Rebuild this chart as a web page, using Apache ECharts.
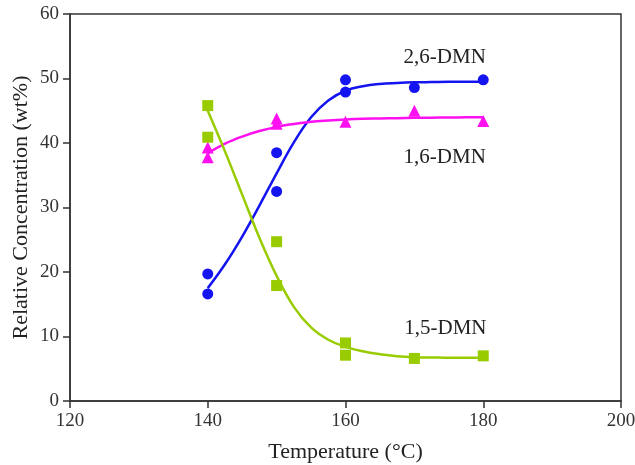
<!DOCTYPE html>
<html>
<head>
<meta charset="utf-8">
<script src="https://cdn.jsdelivr.net/npm/echarts@6/dist/echarts.min.js"></script>
<style>html,body{margin:0;padding:0;background:#fff}#c{width:635px;height:465px}</style>
</head>
<body>
<div id="c"></div>
<script>
// Measured points
var dmn26Points = [[140,19.7],[140,16.6],[150,38.5],[150,32.5],[160,49.8],[160,47.9],[170,48.6],[180,49.8]];
var dmn16Points = [[140,39.3],[140,37.8],[150,43.8],[150,43.0],[160,43.3],[170,45.0],[180,43.4]];
var dmn15Points = [[140,45.8],[140,40.9],[150,24.7],[150,17.9],[160,9.0],[160,7.1],[170,6.6],[180,7.0]];

// Fitted curves
var dmn26Curve = [[140,17.5],[142.5,21.2],[145,25.5],[147.5,30.3],[150,35.3],[152.5,40.1],[155,44.0],[157.5,46.6],[160,48.1],[162.5,48.8],[165,49.15],[167.5,49.3],[170,49.4],[172.5,49.45],[175,49.5],[177.5,49.5],[180,49.5]];
var dmn16Curve = [[140,38.4],[142.5,39.9],[145,41.0],[147.5,41.85],[150,42.5],[152.5,42.95],[155,43.3],[157.5,43.5],[160,43.65],[162.5,43.75],[165,43.8],[167.5,43.85],[170,43.9],[172.5,43.93],[175,43.95],[177.5,43.98],[180,44.0]];
var dmn15Curve = [[140,45.0],[142.5,38.7],[145,32.0],[147.5,25.3],[150,19.4],[152.5,14.6],[155,11.4],[157.5,9.5],[160,8.4],[162.5,7.7],[165,7.25],[167.5,6.95],[170,6.8],[172.5,6.75],[175,6.7],[177.5,6.7],[180,6.7]];

var seriesNames = ['2,6-DMN','1,6-DMN','1,5-DMN'];
var labelCoords = [[174.4,53.3],[174.4,37.8],[174.5,11.2]];

var xTicks = {min:120, max:200, interval:20};
var yTicks = {min:0, max:60, interval:10};

var colors = ['#1414f0','#ff10f0','#99cc00'];
var font = 'Liberation Serif, Times New Roman, serif';

function curve(data, color, name, coord) {
  return {
    type:'line', data:data, smooth:0.4, showSymbol:false, symbol:'none',
    lineStyle:{color:color, width:2.5}, z:2, silent:true,
    markPoint:{
      symbol:'circle', symbolSize:0, silent:true,
      data:[{coord:coord, value:name}],
      label:{show:true, position:'inside', formatter:name, color:'#222', fontFamily:font, fontSize:21}
    }
  };
}
function pts(data, color, sym, size) {
  return {type:'scatter', data:data, symbol:sym, symbolSize:size, itemStyle:{color:color, opacity:1}, z:5};
}

var chart = echarts.init(document.getElementById('c'));
chart.setOption({
  animation:false,
  backgroundColor:'#fff',
  grid:{left:70, right:14, top:14, bottom:64, containLabel:false, outerBoundsMode:'none',
        show:true, borderColor:'#333', borderWidth:1.5, backgroundColor:'transparent'},
  xAxis:{
    type:'value', min:xTicks.min, max:xTicks.max, interval:xTicks.interval,
    name:'Temperature (°C)', nameLocation:'middle', nameGap:40,
    nameTextStyle:{fontFamily:font, fontSize:22, color:'#222'},
    axisLine:{lineStyle:{color:'#333', width:1.5}},
    axisTick:{show:true, length:7, lineStyle:{color:'#333', width:1.5}},
    axisLabel:{fontFamily:font, fontSize:19, color:'#333', margin:11},
    splitLine:{show:false}
  },
  yAxis:{
    type:'value', min:yTicks.min, max:yTicks.max, interval:yTicks.interval,
    name:'Relative Concentration (wt%)', nameLocation:'middle', nameGap:38, nameMoveOverlap:false,
    nameTextStyle:{fontFamily:font, fontSize:22, color:'#222'},
    axisLine:{show:true, lineStyle:{color:'#333', width:1.5}},
    axisTick:{show:true, length:7, lineStyle:{color:'#333', width:1.5}},
    axisLabel:{fontFamily:font, fontSize:19, color:'#333', margin:11},
    splitLine:{show:false}
  },
  series:[
    curve(dmn26Curve, colors[0], seriesNames[0], labelCoords[0]),
    curve(dmn16Curve, colors[1], seriesNames[1], labelCoords[1]),
    curve(dmn15Curve, colors[2], seriesNames[2], labelCoords[2]),
    pts(dmn26Points, colors[0], 'circle', 11),
    pts(dmn16Points, colors[1], 'triangle', 12),
    pts(dmn15Points, colors[2], 'rect', 11)
  ]
});
</script>
</body>
</html>
